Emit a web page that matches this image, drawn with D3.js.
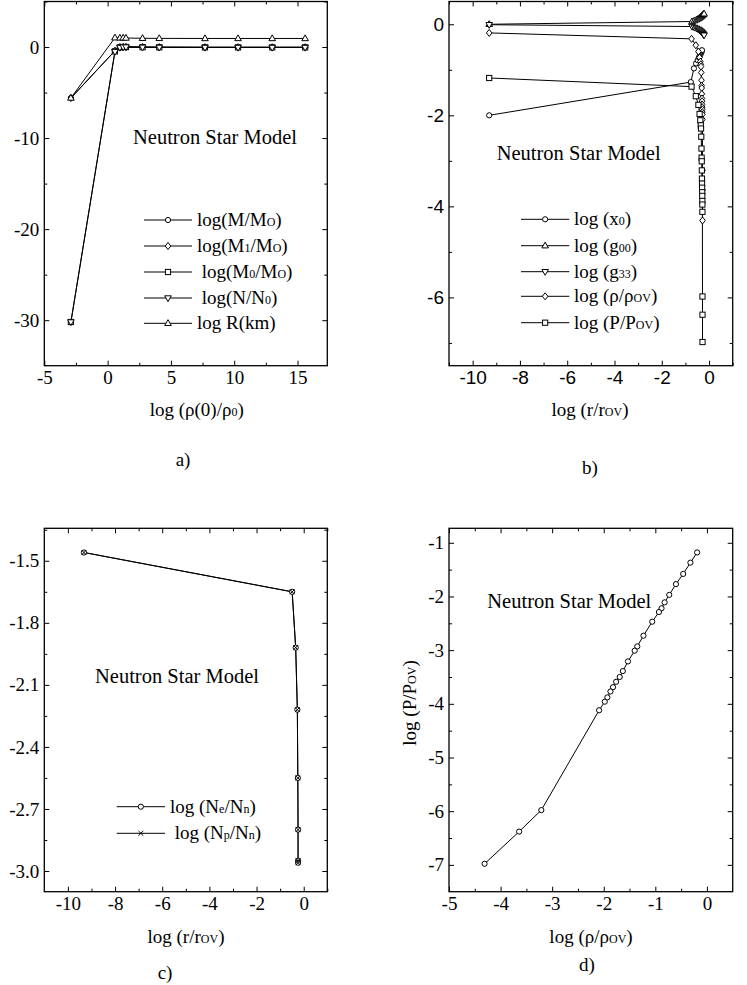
<!DOCTYPE html>
<html><head><meta charset="utf-8">
<script src="https://cdn.jsdelivr.net/npm/d3@7"></script>
<style>body{margin:0;background:#fff}</style>
</head><body>
<svg id="c" width="747" height="985"></svg>
<script>
// ---------------- DATA ----------------
// Panel a
const aX   = [-2.9, 0.58, 0.97, 1.23, 1.45, 2.76, 4.08, 7.69, 10.3, 13.0, 15.6];
const aM   = [-5.6, -0.42, -0.02, 0.0, 0.0, -0.02, -0.03, -0.04, -0.04, -0.04, -0.04];
const aM1  = [-5.6, -0.40, 0.0, 0.02, 0.02, 0.0, -0.01, -0.02, -0.02, -0.02, -0.02];
const aM0  = [-30.2, -0.48, -0.04, 0.0, 0.0, -0.02, -0.03, -0.04, -0.04, -0.04, -0.04];
const aN   = [-30.2, -0.50, -0.05, 0.0, 0.0, -0.03, -0.04, -0.05, -0.05, -0.05, -0.05];
const aR   = [-5.6, 1.02, 1.0, 1.0, 0.99, 0.96, 0.95, 0.94, 0.94, 0.94, 0.94];
// Panel b
const bRx0 = [-9.3, -0.77, -0.64, -0.55, -0.48, -0.43, -0.39, -0.36, -0.34, -0.32, -0.31, -0.30];
const bX0  = [-2.0, -1.27, -0.97, -0.86, -0.79, -0.73, -0.69, -0.66, -0.63, -0.61, -0.59, -0.57];
const bRg  = [-9.3, -0.72, -0.62, -0.53, -0.46, -0.40, -0.35, -0.31, -0.28, -0.25, -0.23, -0.21];
const bG00 = [0.0, 0.06, 0.08, 0.10, 0.12, 0.14, 0.16, 0.18, 0.20, 0.21, 0.22, 0.23];
const bG33 = [-0.01, -0.05, -0.07, -0.09, -0.11, -0.13, -0.15, -0.17, -0.19, -0.21, -0.23, -0.24];
const bR   = [-9.3, -0.74, -0.56, -0.45, -0.40, -0.37, -0.35, -0.34, -0.33, -0.32, -0.315, -0.31,
              -0.305, -0.30, -0.297, -0.294, -0.291, -0.288, -0.285, -0.283, -0.281, -0.279, -0.278, -0.277];
const rhoOV = [-0.19, -0.32, -0.46, -0.60, -0.73, -0.82, -0.88, -0.93, -1.06, -1.23, -1.35, -1.40,
               -1.53, -1.63, -1.69, -1.76, -1.82, -1.87, -1.93, -1.98, -2.09, -3.21, -3.64, -4.31];
const pOV   = [-1.18, -1.37, -1.58, -1.77, -1.97, -2.11, -2.22, -2.29, -2.47, -2.73, -2.93, -3.01,
               -3.21, -3.39, -3.50, -3.59, -3.69, -3.77, -3.88, -3.96, -4.12, -5.98, -6.38, -6.98];
// Panel c
const cR  = [-9.32, -0.49, -0.34, -0.27, -0.25, -0.24, -0.24, -0.24];
const cNe = [-1.46, -1.65, -1.92, -2.22, -2.55, -2.80, -2.95, -2.96];
const cNp = [-1.46, -1.65, -1.92, -2.22, -2.55, -2.80, -2.95, -2.96];
// Tick values
const aXMajor = [-5, 0, 5, 10, 15], aXMinor = [-2.5, 2.5, 7.5, 12.5];
const aYMajor = [0, -10, -20, -30], aYMinor = [5, -5, -15, -25];
const bXMajor = [-10, -8, -6, -4, -2, 0], bXMinor = [-11, -9, -7, -5, -3, -1, 1];
const bYMajor = [0, -2, -4, -6], bYMinor = [-1, -3, -5, -7];
const cXMajor = [-10, -8, -6, -4, -2, 0], cXMinor = [-9, -7, -5, -3, -1, 1];
const cYMajor = [-1.5, -1.8, -2.1, -2.4, -2.7, -3.0], cYMinor = [-1.35, -1.65, -1.95, -2.25, -2.55, -2.85];
const dXMajor = [-5, -4, -3, -2, -1, 0], dXMinor = [-4.5, -3.5, -2.5, -1.5, -0.5];
const dYMajor = [-1, -2, -3, -4, -5, -6, -7], dYMinor = [-1.5, -2.5, -3.5, -4.5, -5.5, -6.5];
// Text
const title = "Neutron Star Model";
const legendA = [
  [["log(M/M"], ["O", 1], [")"]],
  [["log(M"], ["1", 1], ["/M"], ["O", 1], [")"]],
  [["\u00a0log(M"], ["0", 1], ["/M"], ["O", 1], [")"]],
  [["\u00a0log(N/N"], ["0", 1], [")"]],
  [["log R(km)"]]
];
const legendB = [
  [["log (x"], ["0", 1], [")"]],
  [["log (g"], ["00", 1], [")"]],
  [["log (g"], ["33", 1], [")"]],
  [["log (\u03c1/\u03c1"], ["OV", 1], [")"]],
  [["log (P/P"], ["OV", 1], [")"]]
];
const legendC = [
  [["log (N"], ["e", 1], ["/N"], ["n", 1], [")"]],
  [["\u00a0log (N"], ["p", 1], ["/N"], ["n", 1], [")"]]
];
const xLabelA = [["log (\u03c1(0)/\u03c1"], ["0", 1], [")"]];
const xLabelB = [["log (r/r"], ["OV", 1], [")"]];
const xLabelD = [["log (\u03c1/\u03c1"], ["OV", 1], [")"]];
const yLabelD = [["log (P/P"], ["OV", 1], [")"]];

// ---------------- DRAWING ----------------
const svg = d3.select("#c");
const SERIF = "'Liberation Serif','Times New Roman',serif";
const SANS = "'Liberation Sans',Arial,sans-serif";

function rich(t, segs, size, small) {
  segs.forEach(s => {
    t.append("tspan").attr("font-size", s[1] ? small : size).text(s[0]);
  });
  return t;
}

function marker(g, type, cx, cy) {
  const m = g.append("g").attr("transform", `translate(${cx},${cy})`)
    .attr("fill", "#fff").attr("stroke", "#000").attr("stroke-width", 1);
  if (type === "circle") m.append("circle").attr("r", 2.6);
  else if (type === "square") m.append("rect").attr("x", -2.6).attr("y", -2.6).attr("width", 5.2).attr("height", 5.2);
  else if (type === "diamond") m.append("path").attr("d", "M0,-3.5L2.8,0L0,3.5L-2.8,0Z");
  else if (type === "up") m.append("path").attr("d", "M0,-3.6L3.3,2.2L-3.3,2.2Z");
  else if (type === "down") m.append("path").attr("d", "M0,3.6L3.3,-2.2L-3.3,-2.2Z");
  else if (type === "x") m.append("path").attr("fill", "none").attr("d", "M-2.4,-2.4L2.4,2.4M-2.4,2.4L2.4,-2.4");
}

function panel(o) {
  const x = d3.scaleLinear().domain(o.xd).range([o.l, o.r]);
  const y = d3.scaleLinear().domain(o.yd).range([o.b, o.t]);
  const g = svg.append("g");
  const font = o.tickFont || SERIF;
  const axes = [
    [d3.axisBottom(x), o.b, o.xMaj, o.xMin, true, "x"],
    [d3.axisTop(x), o.t, o.xMaj, o.xMin, false, "x"],
    [d3.axisLeft(y), o.l, o.yMaj, o.yMin, true, "y"],
    [d3.axisRight(y), o.r, o.yMaj, o.yMin, false, "y"]
  ];
  axes.forEach(([ax, pos, maj, min, lab, dir]) => {
    const tr = dir === "x" ? `translate(0,${pos})` : `translate(${pos},0)`;
    const a1 = g.append("g").attr("transform", tr).call(
      ax.tickValues(maj).tickSize(-5).tickPadding(5)
        .tickFormat(lab ? (dir === "x" ? o.fx : o.fy) : ""));
    a1.select(".domain").remove();
    a1.selectAll("text").attr("font-family", font).attr("font-size", o.tickSize || 19).attr("fill", "#000");
    a1.selectAll("line").attr("stroke", "#000").attr("stroke-width", 1);
    const a2 = g.append("g").attr("transform", tr).call(
      ax.tickValues(min).tickSize(-3).tickFormat(""));
    a2.select(".domain").remove();
    a2.selectAll("line").attr("stroke", "#000").attr("stroke-width", 1);
  });
  g.append("rect").attr("x", o.l).attr("y", o.t).attr("width", o.r - o.l).attr("height", o.b - o.t)
    .attr("fill", "none").attr("stroke", "#000").attr("stroke-width", 1.3);
  return { g, x, y };
}

function series(p, xs, ys, type, width) {
  const pts = xs.map((v, i) => [p.x(v), p.y(ys[i])]);
  p.g.append("path").attr("d", d3.line()(pts)).attr("fill", "none")
    .attr("stroke", "#000").attr("stroke-width", width || 1);
  return pts;
}
function markers(p, pts, type) { pts.forEach(d => marker(p.g, type, d[0], d[1])); }

function legend(g, items, x1, x2, tx, ys, types, size, small) {
  items.forEach((segs, i) => {
    g.append("line").attr("x1", x1).attr("x2", x2).attr("y1", ys[i]).attr("y2", ys[i])
      .attr("stroke", "#000").attr("stroke-width", 1);
    (Array.isArray(types[i]) ? types[i] : [types[i]]).forEach(t => marker(g, t, (x1 + x2) / 2, ys[i]));
    const t = g.append("text").attr("x", tx).attr("y", ys[i] + 6).attr("font-family", SERIF);
    rich(t, segs, size, small);
  });
}
function label(segs, x, y, size, small, anchor, rot) {
  const t = svg.append("text").attr("font-family", SERIF).attr("text-anchor", anchor || "middle")
    .attr("transform", `translate(${x},${y})` + (rot ? ` rotate(${rot})` : ""));
  rich(t, segs, size, small);
}

const fmt0 = d => String(d);
const fmt1 = d => d.toFixed(1);

// ---- Panel a
const pa = panel({ l: 44.3, r: 327.3, t: 1.5, b: 365.7, xd: [-5, 17.35], yd: [-35, 5],
  xMaj: aXMajor, xMin: aXMinor, yMaj: aYMajor, yMin: aYMinor, fx: fmt0, fy: fmt0 });
const ptsR = series(pa, aX, aR);
const ptsM = series(pa, aX, aM);
const ptsM1 = series(pa, aX, aM1);
const ptsM0 = series(pa, aX, aM0);
const ptsN = series(pa, aX, aN);
markers(pa, ptsM, "circle"); markers(pa, ptsM1, "diamond"); markers(pa, ptsR, "up");
markers(pa, ptsM0, "square"); markers(pa, ptsN, "down");
pa.g.append("text").attr("x", 133).attr("y", 144).attr("font-family", SERIF).attr("font-size", 20.5).text(title);
legend(pa.g, legendA, 144, 192, 197, [220, 246, 272, 298, 323.3], ["circle", "diamond", "square", "down", "up"], 19, 12);
label(xLabelA, 196.7, 416, 19, 12);
label([["a)"]], 183, 466, 19, 12);

// ---- Panel b
const pb = panel({ l: 449, r: 732.7, t: 1.5, b: 365.7, xd: [-11, 1], yd: [-7.5, 0.5],
  xMaj: bXMajor, xMin: bXMinor, yMaj: bYMajor, yMin: bYMinor, fx: fmt0, fy: fmt0, tickFont: SANS, tickSize: 19 });
const pX0 = series(pb, bRx0, bX0);
const pG00 = series(pb, bRg, bG00);
const pG33 = series(pb, bRg, bG33);
const pRho = series(pb, bR, rhoOV);
const pP = series(pb, bR, pOV);
markers(pb, pX0, "circle"); markers(pb, pRho, "diamond"); markers(pb, pP, "square");
markers(pb, pG00, "up"); markers(pb, pG33, "down");
pb.g.append("text").attr("x", 496.7).attr("y", 160).attr("font-family", SERIF).attr("font-size", 20.5).text(title);
legend(pb.g, legendB, 521, 569.3, 574, [219.3, 245.7, 271.7, 296.3, 322.7], ["circle", "up", "down", "diamond", "square"], 19, 12);
label(xLabelB, 590, 416, 19, 12);
label([["b)"]], 590, 474, 19, 12);

// ---- Panel c
const pc = panel({ l: 44.3, r: 327.3, t: 528.3, b: 891.7, xd: [-11, 1], yd: [-3.1, -1.343],
  xMaj: cXMajor, xMin: cXMinor, yMaj: cYMajor, yMin: cYMinor, fx: fmt0, fy: fmt1 });
const pNe = series(pc, cR, cNe);
const pNp = series(pc, cR, cNp);
markers(pc, pNe, "circle"); markers(pc, pNp, "x");
pc.g.append("text").attr("x", 95).attr("y", 683).attr("font-family", SERIF).attr("font-size", 20.5).text(title);
legend(pc.g, legendC, 116.7, 165, 170, [806.7, 833.3], ["circle", "x"], 19, 12);
label(xLabelB, 186, 943, 19, 12);
label([["c)"]], 165, 979, 19, 12);

// ---- Panel d
const pd = panel({ l: 449, r: 732.7, t: 528.3, b: 891.7, xd: [-5, 0.5], yd: [-7.5, -0.73],
  xMaj: dXMajor, xMin: dXMinor, yMaj: dYMajor, yMin: dYMinor, fx: fmt0, fy: fmt0 });
const pEos = series(pd, rhoOV, pOV);
markers(pd, pEos, "circle");
pd.g.append("text").attr("x", 487.3).attr("y", 608).attr("font-family", SERIF).attr("font-size", 20.5).text(title);
label(xLabelD, 591, 943, 19, 12);
label(yLabelD, 416, 703, 19, 12, "middle", -90);
label([["d)"]], 587, 971, 19, 12);
</script>
</body></html>
